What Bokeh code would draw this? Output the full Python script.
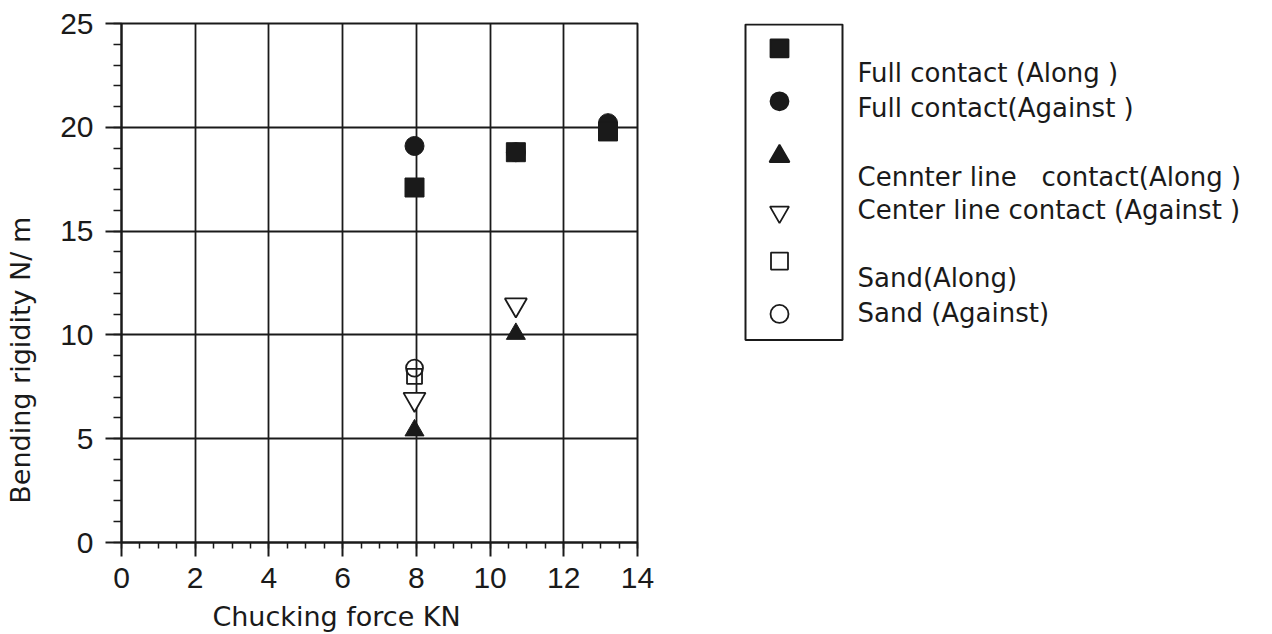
from bokeh.plotting import figure
from bokeh.layouts import row
from bokeh.models import Range1d, SingleIntervalTicker
from bokeh.core.properties import value
from bokeh.embed import file_html
from bokeh.resources import INLINE

# ---------------- data ----------------
x_full = [7.95, 10.7, 13.2]
full_along = [17.1, 18.8, 19.8]
full_against = [19.1, 18.8, 20.2]
x_center = [7.95, 10.7]
center_along = [5.4, 10.05]
center_against = [6.9, 11.45]
x_sand = [7.95]
sand_along = [8.0]
sand_against = [8.4]

series_labels = [
    "Full contact (Along )",
    "Full contact(Against )",
    "Cennter line\u00a0\u00a0 contact(Along )",
    "Center line contact (Against )",
    "Sand(Along)",
    "Sand (Against)",
]

NUM_FONT = "Liberation Sans"
TXT_FONT = "DejaVu Sans"
INK = "#1a1a1a"
PAD = "\u00a0"

H = 634
TOP, BOTTOM = 23, 91

# ---------------- main plot ----------------
p = figure(width=708, height=H, output_backend="svg", toolbar_location=None,
           x_range=Range1d(0, 14), y_range=Range1d(0, 25),
           min_border_left=121, min_border_right=71, min_border_top=TOP,
           min_border_bottom=BOTTOM)
p.background_fill_color = "white"
p.border_fill_color = "white"
p.outline_line_color = INK
p.outline_line_width = 2

p.xaxis.ticker = SingleIntervalTicker(interval=2, num_minor_ticks=4)
p.yaxis.ticker = SingleIntervalTicker(interval=5, num_minor_ticks=5)
# trailing no-break spaces shift the titles off-centre as in the original
p.xaxis.axis_label = "Chucking force KN" + PAD * 10
p.yaxis.axis_label = "Bending rigidity  N/ m" + PAD * 17

for ax in (p.xaxis[0], p.yaxis[0]):
    ax.axis_line_color = INK
    ax.axis_line_width = 2
    ax.major_tick_line_color = INK
    ax.major_tick_line_width = 2
    ax.minor_tick_line_color = INK
    ax.minor_tick_line_width = 1.5
    ax.major_tick_in = 0
    ax.minor_tick_in = 0
    ax.major_label_text_font = NUM_FONT
    ax.major_label_text_font_size = "30px"
    ax.major_label_text_color = INK
    ax.axis_label_text_font = TXT_FONT
    ax.axis_label_text_font_style = "normal"
    ax.axis_label_text_color = INK

p.xaxis.axis_label_text_font_size = "27px"
p.yaxis.axis_label_text_font_size = "27px"
p.xaxis.major_tick_out = 14
p.xaxis.minor_tick_out = 6
p.xaxis.major_label_standoff = 11
p.xaxis.axis_label_standoff = 10
p.yaxis.major_tick_out = 16
p.yaxis.minor_tick_out = 8
p.yaxis.major_label_standoff = 12
p.yaxis.axis_label_standoff = 21

p.grid.grid_line_color = INK
p.grid.grid_line_width = 1.8
p.grid.grid_line_alpha = 1.0

# draw order: circles under squares where they coincide
p.scatter(x_full, full_against, marker="circle", size=19, fill_color=INK, line_color=INK)
p.scatter(x_full, full_along, marker="square", size=19, fill_color=INK, line_color=INK)
p.scatter(x_center, center_along, marker="triangle", size=19, fill_color=INK, line_color=INK)
p.scatter(x_center, center_against, marker="inverted_triangle", size=22, fill_color="white",
          line_color=INK, line_width=1.8)
p.scatter(x_sand, sand_along, marker="square", size=15, fill_color=None, line_color=INK, line_width=1.8)
p.scatter(x_sand, sand_against, marker="circle", size=17, fill_color=None, line_color=INK, line_width=1.8)

# ---------------- legend panel ----------------
# frame shares the main plot's vertical borders; coordinates are pixels
W2 = 556
lg = figure(width=W2, height=H, output_backend="svg", toolbar_location=None,
            x_range=Range1d(0, W2), y_range=Range1d(H - BOTTOM, TOP),
            x_axis_type=None, y_axis_type=None,
            min_border_left=0, min_border_right=0,
            min_border_top=TOP, min_border_bottom=BOTTOM)
lg.outline_line_color = None
lg.grid.visible = False
lg.background_fill_color = "white"
lg.border_fill_color = "white"

lg.quad(left=[37], right=[134], top=[24], bottom=[340], fill_color=None,
        line_color=INK, line_width=2)

mk_x = [71] * 6
mk_y = [48, 101, 156, 212, 261, 314]
markers = ["square", "circle", "triangle", "inverted_triangle", "square", "circle"]
fills = [INK, INK, INK, None, None, None]
sizes = [18, 18, 20, 19, 17, 18]
for xx, yy, m, f, s in zip(mk_x, mk_y, markers, fills, sizes):
    lg.scatter([xx], [yy], marker=m, size=s, fill_color=f, line_color=INK, line_width=1.8)

txt_y = [73, 108, 177, 210, 278, 313]
lg.text(x=[149] * 6, y=txt_y, text=series_labels, text_font=value(TXT_FONT),
        text_font_size="26px", text_color=INK, text_baseline="middle", text_align="left")

layout = row(p, lg, spacing=0)
open("out.html", "w").write(file_html(layout, INLINE))
